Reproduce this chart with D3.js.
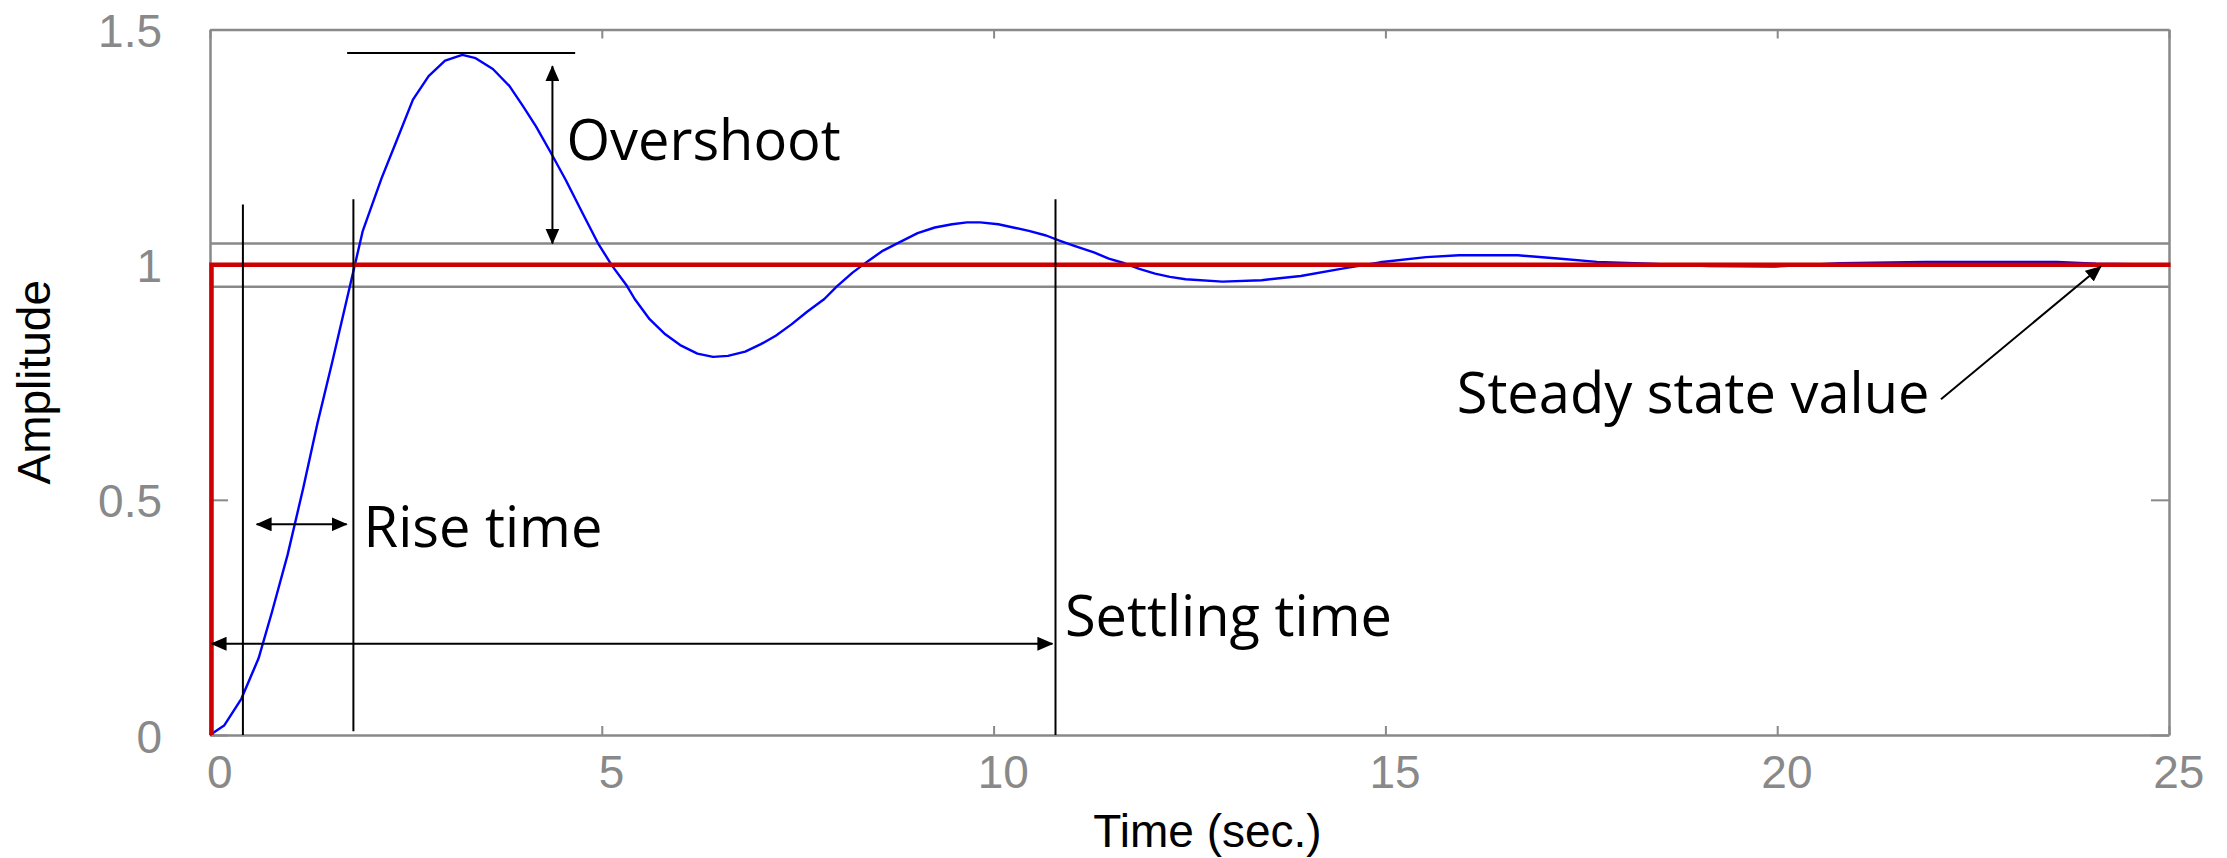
<!DOCTYPE html>
<html>
<head>
<meta charset="utf-8">
<script src="https://cdn.jsdelivr.net/npm/d3@7"></script>
<style>
  html, body { margin: 0; padding: 0; background: #fff; }
  svg { display: block; }
  .axis path, .axis line { stroke: #898989; }
  .axis text { fill: #898989; font-family: "Liberation Sans", Arial, sans-serif; font-size: 46px; }
  .title { font-family: "Liberation Sans", Arial, sans-serif; font-size: 46px; fill: #000; }
  .note { font-family: "Open Sans", "Noto Sans", sans-serif; font-size: 56px; fill: #000; }
</style>
</head>
<body>
<svg id="chart" width="2227" height="858"></svg>
<script>
// Step response (time in sec., amplitude)
const times = [0, 0.18, 0.40, 0.62, 0.79, 0.99, 1.19, 1.37, 1.56, 1.95, 2.19, 2.38, 2.59, 2.79, 3.00,
  3.22, 3.39, 3.61, 3.82, 3.99, 4.16, 4.35, 4.54, 4.75, 4.95, 5.13, 5.32, 5.42, 5.61, 5.81, 6.00,
  6.22, 6.42, 6.61, 6.83, 7.03, 7.22, 7.42, 7.62, 7.84, 8.00, 8.20, 8.40, 8.59, 8.79, 9.03, 9.25,
  9.47, 9.66, 9.83, 10.06, 10.25, 10.45, 10.67, 10.84, 11.03, 11.28, 11.47, 11.67, 11.86, 12.06,
  12.25, 12.45, 12.92, 13.42, 13.92, 14.43, 14.93, 15.52, 15.94, 16.69, 17.20, 17.70, 18.37,
  19.12, 19.96, 20.80, 21.89, 23.57, 24.07, 25.00];
const amplitude = [0, 0.020, 0.077, 0.163, 0.261, 0.383, 0.525, 0.662, 0.793, 1.072, 1.184, 1.263, 1.351, 1.401, 1.434,
  1.446, 1.439, 1.416, 1.380, 1.338, 1.294, 1.238, 1.180, 1.111, 1.046, 0.998, 0.955, 0.927, 0.884, 0.852, 0.829,
  0.811, 0.804, 0.806, 0.815, 0.831, 0.849, 0.873, 0.900, 0.927, 0.954, 0.983, 1.008, 1.030, 1.047, 1.067, 1.079,
  1.086, 1.090, 1.090, 1.086, 1.079, 1.072, 1.062, 1.051, 1.040, 1.026, 1.013, 1.003, 0.991, 0.981,
  0.974, 0.969, 0.964, 0.967, 0.976, 0.991, 1.005, 1.016, 1.020, 1.020, 1.013, 1.006, 1.002,
  0.997, 0.996, 1.003, 1.006, 1.006, 1.002, 1.000];

// Unit step input
const stepTimes = [0, 0, 25];
const stepValues = [0, 1, 1];

// Tolerance band around the steady state value
const bandValues = [1.045, 0.953];

// Axis ticks
const xTickValues = [0, 5, 10, 15, 20, 25];
const xTickLabels = ['0', '5', '10', '15', '20', '25'];
const yTickValues = [0, 0.5, 1, 1.5];
const yTickLabels = ['0', '0.5', '1', '1.5'];

// Annotation geometry, in data units
const overshootLineT = [1.75, 4.66];
const overshootLevel = 1.45;
const overshootArrowT = 4.37;
const overshootArrowV = [1.422, 1.045];
const riseTimes = [0.42, 1.83];
const riseLineV = [[0, 1.128], [0.008, 1.139]];
const riseArrowT = [0.595, 1.744];
const riseArrowV = 0.448;
const settlingTime = 10.79;
const settlingLineV = [0, 1.139];
const settlingArrowT = [0.02, 10.75];
const settlingArrowV = 0.194;
const steadyArrowT = [22.09, 24.13];
const steadyArrowV = [0.714, 0.996];

const noteTexts = ['Overshoot', 'Rise time', 'Settling time', 'Steady state value'];
const noteT = [4.55, 1.96, 10.91, 15.91];
const noteV = [1.222, 0.40, 0.21, 0.685];

const margin = { top: 29.5, right: 58, bottom: 123, left: 210 };
const width = 2227, height = 858;

const svg = d3.select('#chart');

const x = d3.scaleLinear().domain([0, 25]).range([margin.left, width - margin.right]);
const y = d3.scaleLinear().domain([0, 1.5]).range([height - margin.bottom, margin.top]);

// Arrowhead marker
svg.append('defs').append('marker')
    .attr('id', 'head')
    .attr('viewBox', '0 -7 16 14')
    .attr('refX', 15)
    .attr('refY', 0)
    .attr('markerWidth', 16)
    .attr('markerHeight', 14)
    .attr('markerUnits', 'userSpaceOnUse')
    .attr('orient', 'auto-start-reverse')
  .append('path')
    .attr('d', 'M0,-7L16,0L0,7Z')
    .attr('fill', '#000');

// Axes (ticks point inward, frame on all four sides)
const axisStyle = (g) => {
  g.attr('class', 'axis');
  g.select('.domain').attr('stroke-width', 2.5);
  g.selectAll('.tick line').attr('stroke-width', 2);
};

svg.append('g')
    .attr('transform', `translate(0,${y(0)})`)
    .call(d3.axisBottom(x).tickValues(xTickValues)
      .tickFormat((d, i) => xTickLabels[i]).tickSize(-9).tickSizeOuter(0).tickPadding(20))
    .call(axisStyle)
    .selectAll('.tick text').attr('dx', '0.2em');

svg.append('g')
    .attr('transform', `translate(0,${y(1.5)})`)
    .call(d3.axisTop(x).tickValues(xTickValues).tickFormat('').tickSize(-9).tickSizeOuter(0))
    .call(axisStyle);

svg.append('g')
    .attr('transform', `translate(${x(0)},0)`)
    .call(d3.axisLeft(y).tickValues(yTickValues)
      .tickFormat((d, i) => yTickLabels[i]).tickSize(-18).tickSizeOuter(0).tickPadding(48))
    .call(axisStyle)
    .selectAll('.tick text').attr('dy', '0.37em');

svg.append('g')
    .attr('transform', `translate(${x(25)},0)`)
    .call(d3.axisRight(y).tickValues(yTickValues).tickFormat('').tickSize(-18).tickSizeOuter(0))
    .call(axisStyle);

// Tolerance band
svg.append('g').selectAll('line')
  .data(bandValues)
  .join('line')
    .attr('x1', x(0) + 1)
    .attr('x2', x(25))
    .attr('y1', (d) => y(d))
    .attr('y2', (d) => y(d))
    .attr('stroke', '#898989')
    .attr('stroke-width', 2.5);

// Response curve
const line = d3.line()
    .x((d) => x(d[0]))
    .y((d) => y(d[1]));

svg.append('path')
    .datum(times.map((t, i) => [t, amplitude[i]]))
    .attr('d', line)
    .attr('fill', 'none')
    .attr('stroke', '#0000ff')
    .attr('stroke-width', 2.4)
    .attr('stroke-linejoin', 'round');

// Step input
svg.append('path')
    .datum(stepTimes.map((t, i) => [t, stepValues[i]]))
    .attr('d', line)
    .attr('transform', 'translate(1.5,0)')
    .attr('fill', 'none')
    .attr('stroke', '#cc0000')
    .attr('stroke-width', 4.5);

// Annotations
const notes = svg.append('g').attr('stroke', '#000').attr('stroke-width', 2);

notes.append('line')
    .attr('x1', x(overshootLineT[0])).attr('x2', x(overshootLineT[1]))
    .attr('y1', y(overshootLevel)).attr('y2', y(overshootLevel));

notes.append('line')
    .attr('x1', x(overshootArrowT)).attr('x2', x(overshootArrowT))
    .attr('y1', y(overshootArrowV[0])).attr('y2', y(overshootArrowV[1]))
    .attr('marker-start', 'url(#head)').attr('marker-end', 'url(#head)');

notes.selectAll('.rise')
  .data(riseTimes)
  .join('line')
    .attr('class', 'rise')
    .attr('x1', (d) => x(d)).attr('x2', (d) => x(d))
    .attr('y1', (d, i) => y(riseLineV[i][0])).attr('y2', (d, i) => y(riseLineV[i][1]));

notes.append('line')
    .attr('x1', x(riseArrowT[0])).attr('x2', x(riseArrowT[1]))
    .attr('y1', y(riseArrowV)).attr('y2', y(riseArrowV))
    .attr('marker-start', 'url(#head)').attr('marker-end', 'url(#head)');

notes.append('line')
    .attr('x1', x(settlingTime)).attr('x2', x(settlingTime))
    .attr('y1', y(settlingLineV[0])).attr('y2', y(settlingLineV[1]));

notes.append('line')
    .attr('x1', x(settlingArrowT[0])).attr('x2', x(settlingArrowT[1]))
    .attr('y1', y(settlingArrowV)).attr('y2', y(settlingArrowV))
    .attr('marker-start', 'url(#head)').attr('marker-end', 'url(#head)');

notes.append('line')
    .attr('x1', x(steadyArrowT[0])).attr('x2', x(steadyArrowT[1]))
    .attr('y1', y(steadyArrowV[0])).attr('y2', y(steadyArrowV[1]))
    .attr('marker-end', 'url(#head)');

svg.append('g').selectAll('text')
  .data(noteTexts)
  .join('text')
    .attr('class', 'note')
    .attr('x', (d, i) => x(noteT[i]))
    .attr('y', (d, i) => y(noteV[i]))
    .text((d) => d);

// Axis titles
svg.append('text')
    .attr('class', 'title')
    .attr('x', (x(0) + x(25)) / 2 + 18)
    .attr('y', 847)
    .attr('text-anchor', 'middle')
    .text('Time (sec.)');

svg.append('text')
    .attr('class', 'title')
    .attr('transform', `translate(50,${(y(0) + y(1.5)) / 2})rotate(-90)`)
    .attr('text-anchor', 'middle')
    .text('Amplitude');
</script>
</body>
</html>
